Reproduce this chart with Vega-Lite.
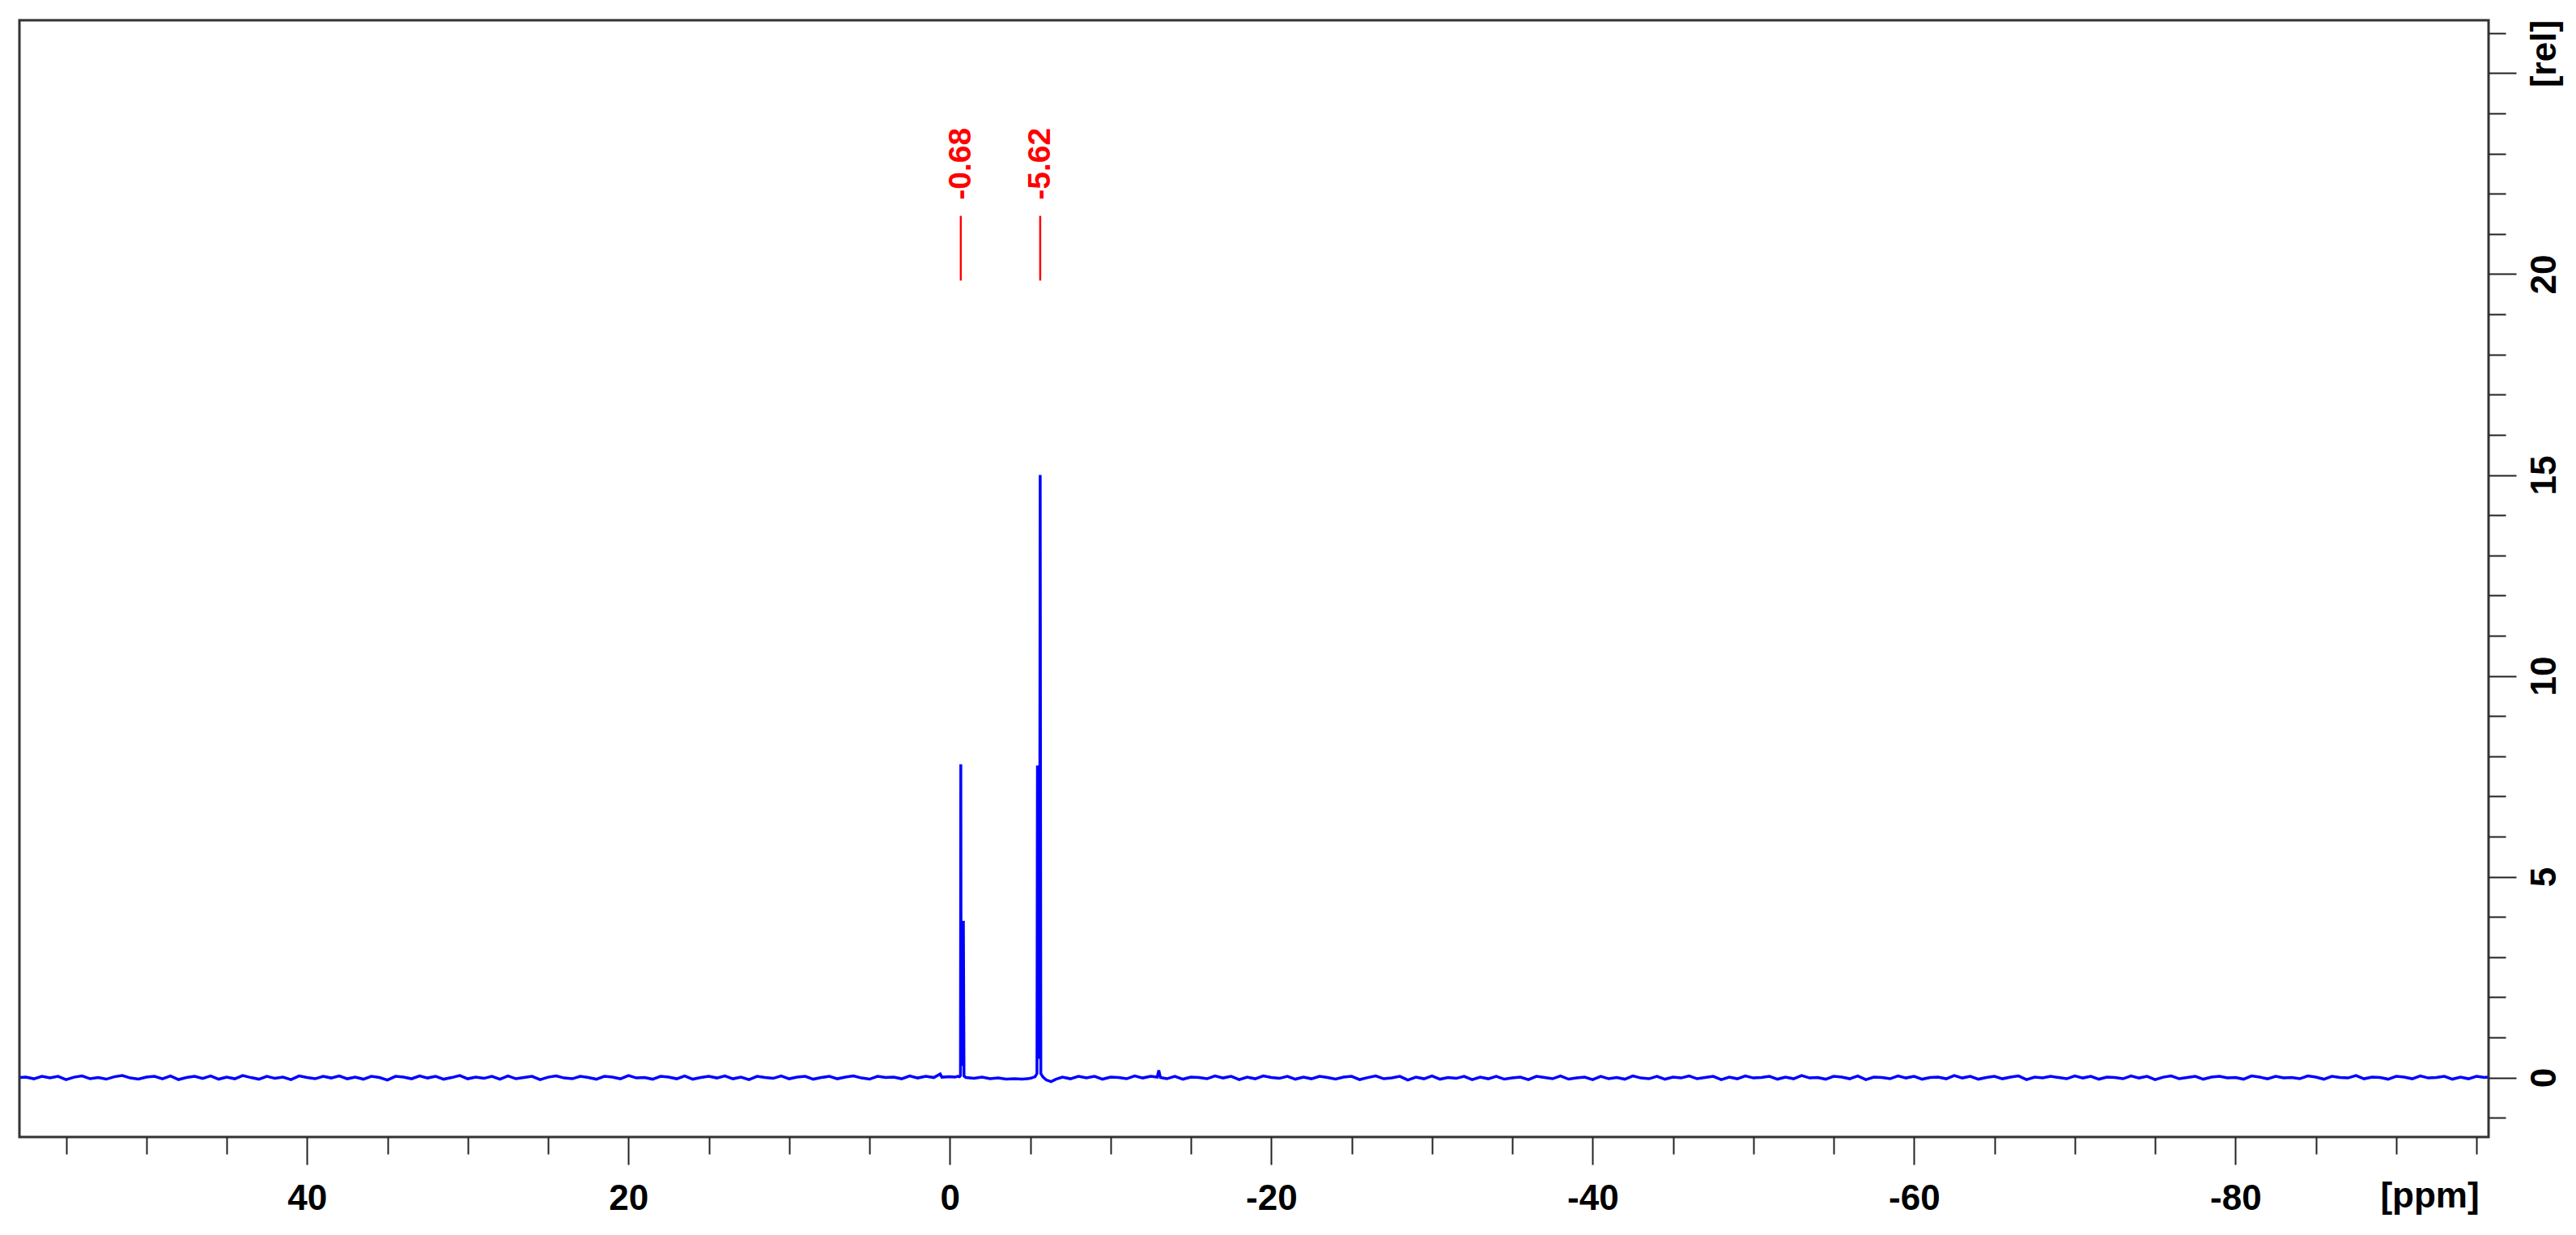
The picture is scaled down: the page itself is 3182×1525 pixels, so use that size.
{
"$schema": "https://vega.github.io/schema/vega-lite/v6.json",
"width": 3050, "height": 1379,
"autosize": "none",
"padding": {"left": 24, "top": 25, "right": 108, "bottom": 121},
"background": "white",
"config": {
  "view": {"stroke": "#333333", "strokeWidth": 3},
  "axis": {"labelFont": "Liberation Sans", "titleFont": "Liberation Sans", "labelFontWeight": "bold", "titleFontWeight": "bold", "labelColor": "#000000", "titleColor": "#000000", "tickColor": "#222222", "grid": false, "domain": false}
},
"datasets": {
"spectrum": [
{"p":57.85,"v":0.0},{"p":57.5,"v":0.01},{"p":57,"v":-0.03},{"p":56.5,"v":0.03},{"p":56,"v":-0.01},{"p":55.5,"v":0.03},{"p":55,"v":-0.05},{"p":54.5,"v":0.01},{"p":54,"v":0.04},{"p":53.5,"v":-0.03},{"p":53,"v":0.0},
{"p":52.5,"v":-0.04},{"p":52,"v":0.02},{"p":51.5,"v":0.05},{"p":51,"v":-0.01},{"p":50.5,"v":-0.04},{"p":50,"v":0.01},{"p":49.5,"v":0.03},{"p":49,"v":-0.03},{"p":48.5,"v":0.04},{"p":48,"v":-0.05},
{"p":47.5,"v":0.0},{"p":47,"v":0.03},{"p":46.5,"v":-0.02},{"p":46,"v":0.04},{"p":45.5,"v":-0.04},{"p":45,"v":0.01},{"p":44.5,"v":-0.03},{"p":44,"v":0.05},{"p":43.5,"v":0.0},{"p":43,"v":-0.04},
{"p":42.5,"v":0.03},{"p":42,"v":-0.02},{"p":41.5,"v":0.01},{"p":41,"v":-0.05},{"p":40.5,"v":0.04},{"p":40,"v":0.0},{"p":39.5,"v":-0.03},{"p":39,"v":0.03},{"p":38.5,"v":-0.01},{"p":38,"v":0.04},
{"p":37.5,"v":-0.03},{"p":37,"v":0.01},{"p":36.5,"v":-0.04},{"p":36,"v":0.03},{"p":35.5,"v":0.0},{"p":35,"v":-0.06},{"p":34.5,"v":0.03},{"p":34,"v":0.01},{"p":33.5,"v":-0.03},{"p":33,"v":0.04},
{"p":32.5,"v":-0.01},{"p":32,"v":0.03},{"p":31.5,"v":-0.04},{"p":31,"v":0.0},{"p":30.5,"v":0.05},{"p":30,"v":-0.03},{"p":29.5,"v":0.01},{"p":29,"v":-0.02},{"p":28.5,"v":0.03},{"p":28,"v":-0.04},
{"p":27.5,"v":0.04},{"p":27,"v":-0.03},{"p":26.5,"v":0.0},{"p":26,"v":0.03},{"p":25.5,"v":-0.05},{"p":25,"v":0.01},{"p":24.5,"v":0.04},{"p":24,"v":-0.01},{"p":23.5,"v":-0.03},{"p":23,"v":0.03},
{"p":22.5,"v":0.0},{"p":22,"v":-0.04},{"p":21.5,"v":0.03},{"p":21,"v":0.01},{"p":20.5,"v":-0.03},{"p":20,"v":0.05},{"p":19.5,"v":-0.01},{"p":19,"v":0.0},{"p":18.5,"v":-0.04},{"p":18,"v":0.03},
{"p":17.5,"v":0.01},{"p":17,"v":-0.03},{"p":16.5,"v":0.04},{"p":16,"v":-0.04},{"p":15.5,"v":0.0},{"p":15,"v":0.03},{"p":14.5,"v":-0.01},{"p":14,"v":0.04},{"p":13.5,"v":-0.03},{"p":13,"v":0.01},
{"p":12.5,"v":-0.05},{"p":12,"v":0.03},{"p":11.5,"v":0.0},{"p":11,"v":-0.02},{"p":10.5,"v":0.04},{"p":10,"v":-0.03},{"p":9.5,"v":0.01},{"p":9,"v":0.03},{"p":8.5,"v":-0.04},{"p":8,"v":0.0},
{"p":7.5,"v":0.03},{"p":7,"v":-0.03},{"p":6.5,"v":0.01},{"p":6,"v":0.04},{"p":5.5,"v":-0.01},{"p":5,"v":-0.04},{"p":4.5,"v":0.03},{"p":4,"v":0.0},{"p":3.5,"v":0.01},{"p":3,"v":-0.03},
{"p":2.5,"v":0.04},{"p":2,"v":-0.01},{"p":1.5,"v":0.03},{"p":1,"v":0.0},{"p":0.6,"v":0.09},{"p":0.5,"v":0.01},{"p":0,"v":0.02},{"p":-0.3,"v":0.01},{"p":-0.5,"v":0.03},{"p":-0.6,"v":0.02},
{"p":-0.66,"v":0.05},{"p":-0.68,"v":7.8},{"p":-0.70,"v":0.4},{"p":-0.80,"v":0.3},{"p":-0.84,"v":3.9},{"p":-0.88,"v":0.04},{"p":-1.0,"v":0.0},
{"p":-1.5,"v":-0.02},{"p":-2,"v":0.01},{"p":-2.5,"v":-0.03},{"p":-3,"v":-0.01},{"p":-3.5,"v":-0.04},{"p":-4,"v":-0.03},{"p":-4.5,"v":-0.04},{"p":-5,"v":-0.02},{"p":-5.3,"v":0.02},
{"p":-5.42,"v":0.1},{"p":-5.45,"v":7.77},{"p":-5.49,"v":0.5},{"p":-5.58,"v":0.5},{"p":-5.62,"v":15.0},{"p":-5.66,"v":0.1},{"p":-5.8,"v":0.01},{"p":-6.0,"v":-0.06},{"p":-6.3,"v":-0.1},{"p":-6.6,"v":-0.04},
{"p":-7,"v":0.01},{"p":-7.5,"v":-0.03},{"p":-8,"v":0.03},
{"p":-8.5,"v":-0.01},{"p":-9,"v":0.03},{"p":-9.5,"v":-0.04},{"p":-10,"v":0.01},{"p":-10.5,"v":0.0},{"p":-11,"v":-0.03},{"p":-11.5,"v":0.04},{"p":-12,"v":-0.01},{"p":-12.5,"v":0.03},{"p":-12.9,"v":0.01},{"p":-13.0,"v":0.18},{"p":-13.1,"v":0.0},{"p":-13.5,"v":-0.03},
{"p":-14,"v":0.03},{"p":-14.5,"v":-0.04},{"p":-15,"v":0.01},{"p":-15.5,"v":0.0},{"p":-16,"v":-0.03},{"p":-16.5,"v":0.04},{"p":-17,"v":-0.01},{"p":-17.5,"v":0.03},{"p":-18,"v":-0.05},{"p":-18.5,"v":0.01},
{"p":-19,"v":-0.03},{"p":-19.5,"v":0.04},{"p":-20,"v":0.0},{"p":-20.5,"v":-0.02},{"p":-21,"v":0.03},{"p":-21.5,"v":-0.04},{"p":-22,"v":0.01},{"p":-22.5,"v":-0.03},{"p":-23,"v":0.03},{"p":-23.5,"v":0.0},
{"p":-24,"v":-0.04},{"p":-24.5,"v":0.01},{"p":-25,"v":0.03},{"p":-25.5,"v":-0.05},{"p":-26,"v":0.0},{"p":-26.5,"v":0.04},{"p":-27,"v":-0.03},{"p":-27.5,"v":-0.01},{"p":-28,"v":0.03},{"p":-28.5,"v":-0.06},
{"p":-29,"v":0.01},{"p":-29.5,"v":-0.03},{"p":-30,"v":0.04},{"p":-30.5,"v":-0.04},{"p":-31,"v":0.0},{"p":-31.5,"v":-0.02},{"p":-32,"v":0.03},{"p":-32.5,"v":-0.05},{"p":-33,"v":0.01},{"p":-33.5,"v":-0.03},
{"p":-34,"v":0.03},{"p":-34.5,"v":-0.04},{"p":-35,"v":-0.01},{"p":-35.5,"v":0.01},{"p":-36,"v":-0.05},{"p":-36.5,"v":0.03},{"p":-37,"v":0.0},{"p":-37.5,"v":-0.03},{"p":-38,"v":0.04},{"p":-38.5,"v":-0.04},
{"p":-39,"v":-0.01},{"p":-39.5,"v":0.01},{"p":-40,"v":-0.05},{"p":-40.5,"v":0.03},{"p":-41,"v":-0.03},{"p":-41.5,"v":0.0},{"p":-42,"v":-0.04},{"p":-42.5,"v":0.04},{"p":-43,"v":-0.01},{"p":-43.5,"v":-0.03},
{"p":-44,"v":0.03},{"p":-44.5,"v":-0.04},{"p":-45,"v":0.01},{"p":-45.5,"v":-0.01},{"p":-46,"v":0.04},{"p":-46.5,"v":-0.03},{"p":-47,"v":0.0},{"p":-47.5,"v":0.03},{"p":-48,"v":-0.05},{"p":-48.5,"v":0.01},
{"p":-49,"v":-0.03},{"p":-49.5,"v":0.04},{"p":-50,"v":-0.01},{"p":-50.5,"v":0.0},{"p":-51,"v":0.03},{"p":-51.5,"v":-0.04},{"p":-52,"v":0.01},{"p":-52.5,"v":-0.03},{"p":-53,"v":0.05},{"p":-53.5,"v":-0.01},
{"p":-54,"v":0.0},{"p":-54.5,"v":-0.04},{"p":-55,"v":0.03},{"p":-55.5,"v":0.01},{"p":-56,"v":-0.03},{"p":-56.5,"v":0.04},{"p":-57,"v":-0.05},{"p":-57.5,"v":0.01},{"p":-58,"v":0.0},{"p":-58.5,"v":-0.03},
{"p":-59,"v":0.04},{"p":-59.5,"v":-0.01},{"p":-60,"v":0.03},{"p":-60.5,"v":-0.04},{"p":-61,"v":0.0},{"p":-61.5,"v":0.01},{"p":-62,"v":-0.03},{"p":-62.5,"v":0.05},{"p":-63,"v":-0.01},{"p":-63.5,"v":0.03},
{"p":-64,"v":-0.04},{"p":-64.5,"v":0.0},{"p":-65,"v":0.03},{"p":-65.5,"v":-0.03},{"p":-66,"v":0.01},{"p":-66.5,"v":0.04},{"p":-67,"v":-0.05},{"p":-67.5,"v":0.01},{"p":-68,"v":-0.01},{"p":-68.5,"v":0.03},
{"p":-69,"v":0.0},{"p":-69.5,"v":-0.03},{"p":-70,"v":0.04},{"p":-70.5,"v":-0.01},{"p":-71,"v":0.03},{"p":-71.5,"v":-0.04},{"p":-72,"v":0.01},{"p":-72.5,"v":0.0},{"p":-73,"v":-0.03},{"p":-73.5,"v":0.04},
{"p":-74,"v":-0.01},{"p":-74.5,"v":0.03},{"p":-75,"v":-0.05},{"p":-75.5,"v":0.01},{"p":-76,"v":0.04},{"p":-76.5,"v":-0.03},{"p":-77,"v":0.0},{"p":-77.5,"v":0.03},{"p":-78,"v":-0.04},{"p":-78.5,"v":0.01},
{"p":-79,"v":0.03},{"p":-79.5,"v":-0.01},{"p":-80,"v":0.0},{"p":-80.5,"v":-0.04},{"p":-81,"v":0.04},{"p":-81.5,"v":0.01},{"p":-82,"v":-0.03},{"p":-82.5,"v":0.03},{"p":-83,"v":-0.01},{"p":-83.5,"v":0.0},
{"p":-84,"v":-0.03},{"p":-84.5,"v":0.04},{"p":-85,"v":0.01},{"p":-85.5,"v":-0.04},{"p":-86,"v":0.03},{"p":-86.5,"v":0.0},{"p":-87,"v":-0.01},{"p":-87.5,"v":0.05},{"p":-88,"v":-0.03},{"p":-88.5,"v":0.01},
{"p":-89,"v":0.0},{"p":-89.5,"v":-0.04},{"p":-90,"v":0.03},{"p":-90.5,"v":0.01},{"p":-91,"v":-0.03},{"p":-91.5,"v":0.04},{"p":-92,"v":-0.01},{"p":-92.5,"v":0.0},{"p":-93,"v":0.03},{"p":-93.5,"v":-0.04},
{"p":-94,"v":0.01},{"p":-94.5,"v":-0.03},{"p":-95,"v":0.03},{"p":-95.5,"v":0.0},{"p":-95.7,"v":0.01}
],
"peaks": [{"p": -0.68, "label": "-0.68"}, {"p": -5.62, "label": "-5.62"}]
},
"layer": [
  {
    "data": {"name": "spectrum"},
    "mark": {"type": "line", "color": "#0000ff", "strokeWidth": 3.5},
    "encoding": {
      "x": {"field": "p", "type": "quantitative",
        "scale": {"domain": [57.9, -95.75], "nice": false, "zero": false},
        "axis": {"orient": "bottom", "values": [40, 20, 0, -20, -40, -60, -80], "tickSize": 34, "tickWidth": 2, "labelFontSize": 44, "labelPadding": 20, "labelBaseline": "top", "labelAlign": "center", "labelFlush": false,
          "labelExpr": "datum.value < 0 ? '-' + abs(datum.value) : '' + datum.value",
          "title": "[ppm]", "titleFontSize": 44, "titleX": 2977, "titleY": 73, "titleAlign": "center", "titleBaseline": "middle", "titleAngle": 0}},
      "y": {"field": "v", "type": "quantitative",
        "scale": {"domain": [-1.48, 26.32], "nice": false, "zero": false},
        "axis": {"orient": "right", "values": [0, 5, 10, 15, 20, 25], "tickSize": 34, "tickWidth": 2, "labelFontSize": 44, "labelAngle": 270, "labelAlign": "center", "labelBaseline": "middle", "labelPadding": 35,
          "labelExpr": "datum.value == 25 ? '' : datum.label",
          "title": "[rel]", "titleFontSize": 44, "titleAngle": 270, "titleX": 69, "titleY": 41, "titleAlign": "center", "titleBaseline": "middle"}}
    }
  },
  {
    "data": {"name": "peaks"},
    "mark": {"type": "rule", "color": "#ff0000", "strokeWidth": 2.5},
    "encoding": {
      "x": {"field": "p", "type": "quantitative",
        "scale": {"domain": [57.9, -95.75], "nice": false, "zero": false},
        "axis": {"orient": "bottom", "values": [55, 50, 45, 35, 30, 25, 15, 10, 5, -5, -10, -15, -25, -30, -35, -45, -50, -55, -65, -70, -75, -85, -90, -95], "tickSize": 21, "tickWidth": 2, "labels": false, "title": null}},
      "y": {"datum": 19.84, "type": "quantitative",
        "scale": {"domain": [-1.48, 26.32], "nice": false, "zero": false},
        "axis": {"orient": "right", "values": [-1, 1, 2, 3, 4, 6, 7, 8, 9, 11, 12, 13, 14, 16, 17, 18, 19, 21, 22, 23, 24, 26], "tickSize": 21, "tickWidth": 2, "labels": false, "title": null}},
      "y2": {"datum": 21.45}
    }
  },
  {
    "data": {"name": "peaks"},
    "mark": {"type": "text", "color": "#ff0000", "angle": 270, "align": "left", "baseline": "middle", "font": "Liberation Sans", "fontWeight": "bold", "fontSize": 39},
    "encoding": {
      "x": {"field": "p", "type": "quantitative", "axis": null},
      "y": {"datum": 21.85, "type": "quantitative", "axis": null},
      "text": {"field": "label"}
    }
  }
],
"resolve": {"axis": {"x": "independent", "y": "independent"}}
}
